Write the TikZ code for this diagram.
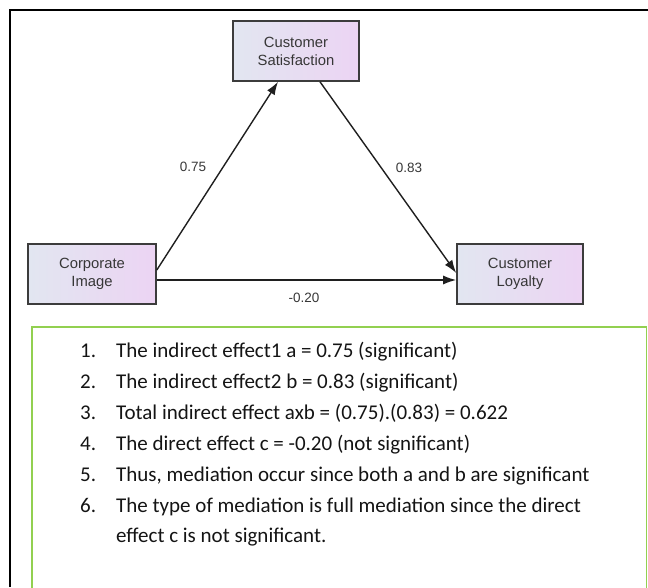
\documentclass[tikz,border=0pt]{standalone}
\usepackage{fontspec}
\setmainfont{Liberation Sans}
\newfontfamily\notefont{Carlito}
\usetikzlibrary{arrows.meta}

\definecolor{boxleft}{RGB}{226,230,241}
\definecolor{boxright}{RGB}{236,212,243}
\definecolor{boxline}{RGB}{60,60,60}
\definecolor{labelgray}{RGB}{55,55,55}
\definecolor{notegreen}{RGB}{146,208,80}

\tikzset{
  construct/.style={rectangle, minimum width=126pt, minimum height=60pt,
    left color=boxleft, right color=boxright, draw=boxline, line width=1.6pt,
    align=center, font=\fontsize{14.8}{18}\selectfont, text=labelgray, inner sep=0pt},
  path/.style={draw=black!88, line width=1.4pt, -{Latex[length=13pt,width=9pt]}},
  coef/.style={font=\fontsize{13.5}{15}\selectfont, text=labelgray, inner sep=0pt},
  itemtext/.style={anchor=base west, inner sep=0pt, font=\notefont\fontsize{21}{24}\selectfont, text=black!92},
}

\begin{document}
\begin{tikzpicture}[x=1pt,y=1pt]
\useasboundingbox (0,0) rectangle (648,587);

% outer frame (top and left edges)
\draw[line width=1.2pt, black] (10,0) -- (10,577) -- (648,577);

% constructs
\node[construct] (sat)  at (296,536) {Customer\\Satisfaction};
\node[construct, minimum width=128pt] (corp) at (92,313) {Corporate\\Image};
\node[construct] (loy)  at (520,313) {Customer\\Loyalty};

% paths
\draw[path] ([yshift=4pt]corp.east) -- ([xshift=-18pt]sat.south);
\draw[path] ([xshift=24pt]sat.south) -- ([yshift=1pt]loy.west);
\draw[path] ([yshift=-6pt]corp.east) -- ([yshift=-6pt]loy.west);

% coefficients
\node[coef] (ca) at (193,420) {0.75};
\node[coef] (cb) at (409,419) {0.83};
\node[coef] (cc) at (304,289) {-0.20};

% summary panel
\begin{scope}
\clip (0,0) rectangle (648,587);
\draw[notegreen, line width=1.3pt] (32,-5) -- (32,260) -- (646.5,260) -- (646.5,-5);
\end{scope}

\foreach \n/\t [count=\i from 0] in {
  1./{The indirect effect1 a = 0.75 (significant)},
  2./{The indirect effect2 b = 0.83 (significant)},
  3./{Total indirect effect axb = (0.75).(0.83) = 0.622},
  4./{The direct effect c = -0.20 (not significant)},
  5./{Thus, mediation occur since both a and b are significant},
  6./{The type of mediation is full mediation since the direct}} {
  \node[itemtext] (num\i) at (80,229-30.8*\i) {\n};
  \node[itemtext] (line\i) at (116,229-30.8*\i) {\t};
}
\node[itemtext] (line6) at (116,229-30.8*6) {effect c is not significant.};
\end{tikzpicture}
\end{document}
